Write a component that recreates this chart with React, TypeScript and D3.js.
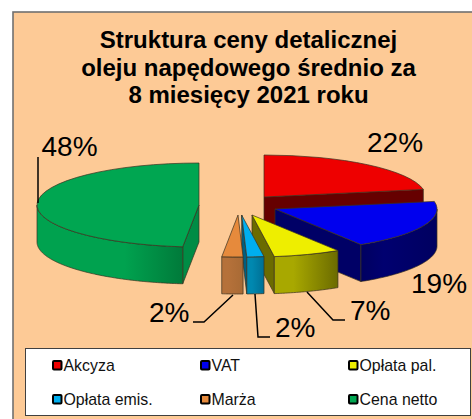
import React from "react";
import * as d3 from "d3";

const titleLines = ["Struktura ceny detalicznej", "oleju napędowego średnio za", "8 miesięcy 2021 roku"];
const categories = ["Akcyza", "VAT", "Opłata pal.", "Opłata emis.", "Marża", "Cena netto"];
const shares = [22.1, 19.0, 6.7, 1.7, 2.1, 48.4];
const topColors = ["#ee0000", "#0000ee", "#eeee00", "#00aeef", "#e68a3c", "#00a651"];
const cutColors = ["#660000", "#000066", "#6b6b00", "#005f80", "#a86a35", "#008c45"];
const wallFrom = ["#660000", "#000070", "#a8a800", "#0088b0", "#b5713a", "#00a24f"];
const wallTo = ["#660000", "#000060", "#6b6b00", "#006f94", "#a86a35", "#007a3a"];

// layout
const RX = 162;
const RY = 42;
const DEPTH = 37;
const apexX = [264, 275, 252, 241.7, 238, 199];
const apexY = [197, 209, 215, 215, 215, 205];
const labelX = [367, 411, 350, 275, 149, 41.5];
const labelY = [152, 293, 320, 337, 322, 156];
const leaders: [number, number][][] = [
  [],
  [],
  [[307, 292], [333, 320], [345, 320]],
  [[255, 294], [258, 337], [270, 337]],
  [[233, 295], [204, 322], [193, 322]],
  [[38, 203], [38, 157]],
];
const legendX = [52, 200, 348];
const legendY = [365, 399];

const TAU = Math.PI * 2;
const EDGE = "#3a3020";

export default function App() {
  const pie = d3.pie<number>().sort(null).value((d) => d).startAngle(0).endAngle(TAU);
  const slices = pie(shares);
  const arc = d3.arc<any>().innerRadius(0).outerRadius(RX);
  const pct = d3.format(".0f");

  const px = (a: number) => RX * Math.sin(a);
  const py = (a: number) => -RY * Math.cos(a);

  return (
    <svg
      width={472}
      height={419}
      style={{ position: "fixed", left: 0, top: 0, display: "block", background: "#fff" }}
      fontFamily="'Liberation Sans', Arial, sans-serif"
    >
      <defs>
        {categories.map((_, i) => (
          <linearGradient id={`wall${i}`} key={i} x1="0" x2="1" y1="0" y2="0">
            <stop offset="0" stopColor={i === 1 || i === 0 ? wallTo[i] : wallFrom[i]} />
            <stop offset={i === 5 ? 0.6 : 0.3} stopColor={wallFrom[i]} />
            <stop offset="1" stopColor={wallTo[i]} />
          </linearGradient>
        ))}
      </defs>
      <rect x={13} y={12} width={470} height={430} fill="#fdca96" stroke="#707070" strokeWidth={1.6} />

      {titleLines.map((t, i) => (
        <text key={t} x={248.5} y={48 + i * 27.5} textAnchor="middle" fontSize={24} fontWeight="bold" fill="#000">
          {t}
        </text>
      ))}

      {slices.map((s, i) => {
        const x0 = apexX[i];
        const y0 = apexY[i];
        const a0 = Math.max(s.startAngle, Math.PI / 2);
        const a1 = Math.min(s.endAngle, (Math.PI * 3) / 2);
        const angles = a1 > a0 ? d3.range(a0, a1, 0.01).concat([a1]) : [];
        const wall = d3
          .area<number>()
          .x((a) => px(a))
          .y0((a) => py(a))
          .y1((a) => py(a) + DEPTH);
        const cut = (a: number) =>
          d3.line()([
            [0, 0],
            [px(a), py(a)],
            [px(a), py(a) + DEPTH],
            [0, DEPTH],
          ]) + "Z";
        const showEnd = s.endAngle < Math.PI;
        const showStart = s.startAngle > Math.PI;
        return (
          <g key={categories[i]} transform={`translate(${x0},${y0})`} stroke={EDGE} strokeWidth={0.7} strokeLinejoin="round">
            {showEnd && <path d={cut(s.endAngle)} fill={cutColors[i]} />}
            {showStart && <path d={cut(s.startAngle)} fill={cutColors[i]} />}
            {angles.length > 0 && <path d={wall(angles) as string} fill={`url(#wall${i})`} />}
            <path
              d={arc(s) as string}
              transform={`scale(1,${RY / RX})`}
              fill={topColors[i]}
              vectorEffect="non-scaling-stroke"
            />
          </g>
        );
      })}

      {leaders.map((pts, i) =>
        pts.length ? (
          <path key={i} d={d3.line()(pts) as string} fill="none" stroke="#000" strokeWidth={1.5} />
        ) : null
      )}

      {shares.map((v, i) => (
        <text key={i} x={labelX[i]} y={labelY[i]} fontSize={28} fill="#000">
          {pct(v)}%
        </text>
      ))}

      <rect x={25.5} y={348.5} width={445} height={67} fill="#fff" stroke="#404040" strokeWidth={1} />
      {categories.map((c, i) => {
        const x = legendX[i % 3];
        const y = legendY[Math.floor(i / 3)];
        return (
          <g key={c}>
            <rect x={x + 1} y={y - 4} width={8.5} height={8.5} rx={1} fill={topColors[i]} stroke="#000" strokeWidth={2} />
            <text x={x + 11.5} y={y + 5.5} fontSize={15.9} fill="#111">
              {c}
            </text>
          </g>
        );
      })}
    </svg>
  );
}
